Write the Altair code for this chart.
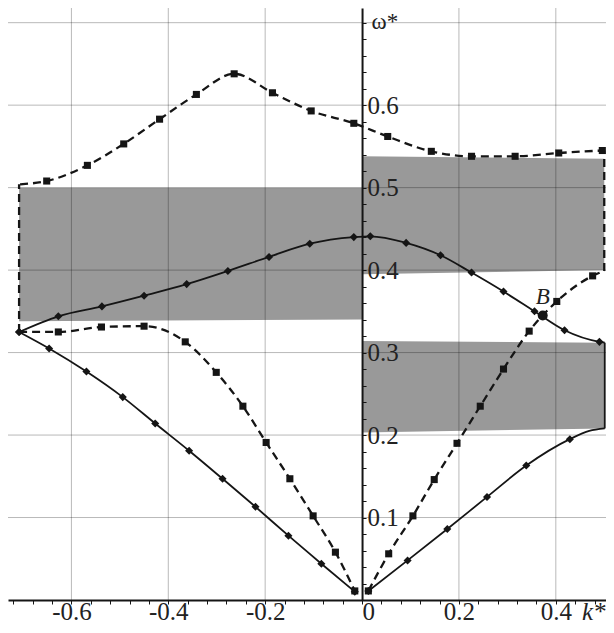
import altair as alt
import pandas as pd

# ---------------- data ----------------
X_DOMAIN = [-0.7309, 0.5036]
Y_DOMAIN = [0.0, 0.7178]

# axis ticks / grid
X_TICKS = [-0.72, -0.68, -0.64, -0.60, -0.56, -0.52, -0.48, -0.44, -0.40, -0.36,
           -0.32, -0.28, -0.24, -0.20, -0.16, -0.12, -0.08, -0.04, 0.0, 0.04,
           0.08, 0.12, 0.16, 0.20, 0.24, 0.28, 0.32, 0.36, 0.40, 0.44, 0.48]
Y_TICKS = [0.02, 0.04, 0.06, 0.08, 0.10, 0.12, 0.14, 0.16, 0.18, 0.20, 0.22, 0.24,
           0.26, 0.28, 0.30, 0.32, 0.34, 0.36, 0.38, 0.40, 0.42, 0.44, 0.46, 0.48,
           0.50, 0.52, 0.54, 0.56, 0.58, 0.60, 0.62, 0.64, 0.66, 0.68, 0.70]
K_GRID = [-0.6, -0.4, -0.2, 0.2, 0.4]
W_GRID = [0.1, 0.2, 0.3, 0.4, 0.5, 0.6, 0.7]

# gray band gaps (two ends per band)
BAND_ID = ["left", "left", "upper", "upper", "lower", "lower"]
BAND_K = [-0.708, 0.0, 0.0, 0.500, 0.0, 0.501]
BAND_LO = [0.338, 0.340, 0.395, 0.400, 0.203, 0.208]
BAND_HI = [0.500, 0.500, 0.538, 0.535, 0.314, 0.312]

# upper solid branch
S1_K = [-0.708, -0.627, -0.537, -0.450, -0.362, -0.277, -0.192, -0.108, -0.017,
        0.017, 0.091, 0.162, 0.226, 0.292, 0.356, 0.418, 0.490, 0.501]
S1_W = [0.325, 0.344, 0.356, 0.369, 0.383, 0.399, 0.416, 0.432, 0.440,
        0.441, 0.433, 0.418, 0.397, 0.374, 0.350, 0.327, 0.313, 0.312]
S1_M = [1, 1, 1, 1, 1, 1, 1, 1, 1, 1, 1, 1, 1, 1, 1, 1, 1, 0]

# lower solid branch, left part
L1_K = [-0.708, -0.646, -0.569, -0.494, -0.427, -0.357, -0.288, -0.220, -0.152, -0.084, -0.015]
L1_W = [0.325, 0.305, 0.277, 0.246, 0.214, 0.181, 0.147, 0.113, 0.078, 0.044, 0.010]
L1_M = [1, 1, 1, 1, 1, 1, 1, 1, 1, 1, 1]

# lower solid branch, right part
R1_K = [0.013, 0.094, 0.176, 0.258, 0.339, 0.429, 0.469, 0.501]
R1_W = [0.011, 0.048, 0.086, 0.125, 0.163, 0.195, 0.205, 0.208]
R1_M = [1, 1, 1, 1, 1, 1, 0, 0]

# upper dashed branch
D1_K = [-0.706, -0.651, -0.567, -0.492, -0.418, -0.342, -0.264, -0.185, -0.105, -0.017,
        0.053, 0.143, 0.226, 0.316, 0.406, 0.496]
D1_W = [0.504, 0.508, 0.527, 0.553, 0.583, 0.613, 0.638, 0.615, 0.593, 0.578,
        0.562, 0.544, 0.538, 0.538, 0.542, 0.545]
D1_M = [0, 1, 1, 1, 1, 1, 1, 1, 1, 1, 1, 1, 1, 1, 1, 1]

# lower dashed branch, left part
L2_K = [-0.708, -0.627, -0.538, -0.450, -0.365, -0.301, -0.246, -0.198, -0.149, -0.101, -0.055, -0.015]
L2_W = [0.325, 0.325, 0.331, 0.332, 0.313, 0.276, 0.235, 0.191, 0.147, 0.102, 0.058, 0.011]
L2_M = [0, 1, 1, 1, 1, 1, 1, 1, 1, 1, 1, 1]

# lower dashed branch, right part
R2_K = [0.013, 0.055, 0.105, 0.149, 0.196, 0.244, 0.292, 0.345, 0.402, 0.476, 0.500]
R2_W = [0.011, 0.056, 0.102, 0.146, 0.190, 0.235, 0.280, 0.326, 0.362, 0.393, 0.399]
R2_M = [1, 1, 1, 1, 1, 1, 1, 1, 1, 1, 0]

# vertical connecting segments
VERT_K = [-0.708, 0.500, 0.501]
VERT_LO = [0.325, 0.399, 0.208]
VERT_HI = [0.504, 0.545, 0.312]
VERT_STYLE = ["dashed", "dashed", "solid"]

# point B
B_K = [0.373]
B_W = [0.345]
B_LABEL = ["B"]

# ---------------- layout ----------------
W, H = 598, 592
PAD_BOTTOM = 25
X0_PX = (0 - X_DOMAIN[0]) / (X_DOMAIN[1] - X_DOMAIN[0]) * W
FONT = "Liberation Serif"
INK = "#151515"
LBL = 25

xscale = alt.Scale(domain=X_DOMAIN, nice=False, zero=False)
yscale = alt.Scale(domain=Y_DOMAIN, nice=False, zero=False)

xaxis = alt.Axis(
    orient="bottom", values=X_TICKS, grid=False,
    labelExpr="round(datum.value*100) % 20 == 0 ? (round(datum.value*100) == 0 ? '0' : (datum.value < 0 ? '-' : '') + format(abs(datum.value), '.1f')) : ''",
    labelAlign={"condition": {"test": "datum.value == 0", "value": "left"}, "value": "center"},
    labelFont=FONT, labelFontSize=LBL, labelColor="#222", labelPadding=-5,
    labelOverlap=False, labelFlush=False,
    tickSize=4, tickColor=INK, tickWidth=1,
    domainColor=INK, domainWidth=2,
    title="k*", titleFont=FONT, titleFontSize=LBL, titleFontStyle="italic",
    titleFontWeight="normal", titleColor="#222", titleAlign="right", titleBaseline="top",
    titleX=W - 1, titleY=-1, titleAngle=0, zindex=1,
)
yaxis = alt.Axis(
    orient="right", offset=-(W - X0_PX), values=Y_TICKS, grid=False,
    labelExpr="round(datum.value*100) % 10 == 0 && datum.value < 0.65 ? format(datum.value, '.1f') : ''",
    labelFont=FONT, labelFontSize=LBL, labelColor="#222", labelPadding=1,
    labelOverlap=False, labelFlush=False,
    tickSize=4, tickColor=INK, tickWidth=1,
    domainColor=INK, domainWidth=2,
    title="ω*", titleFont=FONT, titleFontSize=23, titleFontWeight="normal",
    titleColor="#222", titleAngle=0, titleAlign="left", titleBaseline="middle",
    titleX=9, titleY=13, zindex=1,
)


def X(field):
    return alt.X(field, type="quantitative", scale=xscale, axis=xaxis)


def Y(field):
    return alt.Y(field, type="quantitative", scale=yscale, axis=yaxis)


# ---------------- data frames ----------------
bands = pd.DataFrame({"band": BAND_ID, "k": BAND_K, "lo": BAND_LO, "hi": BAND_HI})


def branch(name, style, ks, ws, ms):
    return pd.DataFrame({"branch": name, "style": style, "k": ks, "w": ws, "m": ms})


curves = pd.concat([
    branch("s1", "solid", S1_K, S1_W, S1_M),
    branch("l1", "solid", L1_K, L1_W, L1_M),
    branch("r1", "solid", R1_K, R1_W, R1_M),
    branch("d1", "dashed", D1_K, D1_W, D1_M),
    branch("l2", "dashed", L2_K, L2_W, L2_M),
    branch("r2", "dashed", R2_K, R2_W, R2_M),
], ignore_index=True)
solid = curves[curves["style"] == "solid"]
dashed = curves[curves["style"] == "dashed"]
solid_pts = solid[solid["m"] == 1]
dashed_pts = dashed[dashed["m"] == 1]

verts = pd.DataFrame({"k": VERT_K, "lo": VERT_LO, "hi": VERT_HI, "style": VERT_STYLE})
kgrid = pd.DataFrame({"k": K_GRID})
wgrid = pd.DataFrame({"w": W_GRID})
bpt = pd.DataFrame({"k": B_K, "w": B_W, "label": B_LABEL})

# ---------------- layers ----------------
band_layer = alt.Chart(bands).mark_area(color="#999999", opacity=1).encode(
    x=X("k"), y=Y("lo"), y2="hi:Q", detail="band:N",
)

vgrid = alt.Chart(kgrid).mark_rule(color="black", opacity=0.28, strokeWidth=1).encode(x=X("k"))
hgrid = alt.Chart(wgrid).mark_rule(color="black", opacity=0.28, strokeWidth=1).encode(y=Y("w"))

solid_lines = alt.Chart(solid).mark_line(
    interpolate="monotone", color=INK, strokeWidth=1.8).encode(
    x=X("k"), y=Y("w"), detail="branch:N",
)
dashed_lines = alt.Chart(dashed).mark_line(
    interpolate="monotone", color=INK, strokeWidth=2.3, strokeDash=[8, 5]).encode(
    x=X("k"), y=Y("w"), detail="branch:N",
)

vert_dashed = alt.Chart(verts[verts["style"] == "dashed"]).mark_rule(
    color=INK, strokeWidth=2.3, strokeDash=[8, 5]).encode(
    x=X("k"), y=Y("lo"), y2="hi:Q",
)
vert_solid = alt.Chart(verts[verts["style"] == "solid"]).mark_rule(
    color=INK, strokeWidth=1.8).encode(
    x=X("k"), y=Y("lo"), y2="hi:Q",
)

solid_marks = alt.Chart(solid_pts).mark_point(
    shape="diamond", filled=True, color=INK, size=65, opacity=1).encode(
    x=X("k"), y=Y("w"),
)
dashed_marks = alt.Chart(dashed_pts).mark_point(
    shape="square", filled=True, color=INK, size=50, opacity=1).encode(
    x=X("k"), y=Y("w"),
)

b_point = alt.Chart(bpt).mark_point(
    shape="circle", filled=True, color=INK, size=100, opacity=1).encode(
    x=X("k"), y=Y("w"),
)
b_text = alt.Chart(bpt).mark_text(
    font=FONT, fontSize=23, fontStyle="italic", color="#222",
    align="center", baseline="alphabetic", dy=-11).encode(
    x=X("k"), y=Y("w"), text="label:N",
)

chart = alt.layer(
    band_layer, vgrid, hgrid, solid_lines, dashed_lines, vert_dashed, vert_solid,
    solid_marks, dashed_marks, b_point, b_text,
).properties(
    width=W, height=H, background="white",
    autosize=alt.AutoSizeParams(type="none"),
    padding={"left": 0, "top": 0, "right": 0, "bottom": PAD_BOTTOM},
).configure_view(stroke=None)

chart.save("out.html", embed_options={"renderer": "svg", "actions": False})
